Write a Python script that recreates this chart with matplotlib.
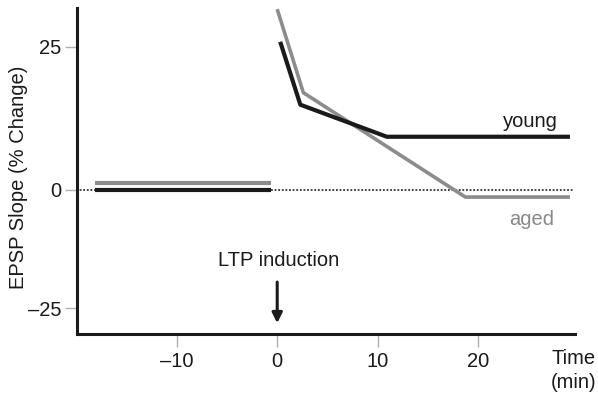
import matplotlib
matplotlib.use("Agg")
import matplotlib.pyplot as plt
import numpy as np

plt.rcParams["font.family"] = ["Liberation Sans", "DejaVu Sans"]

# baseline (pre-induction)
base_x = [-18.1, -0.6]
young_base = [0.0, 0.0]
aged_base = [1.2, 1.2]

# post-induction
young_x = [0.3, 2.3, 10.9, 29.1]
young_y = [25.9, 14.9, 9.3, 9.3]
aged_x = [0.0, 2.6, 18.7, 29.1]
aged_y = [31.6, 17.0, -1.5, -1.5]

x_ticks = [-10, 0, 10, 20]
y_ticks = [-25, 0, 25]

NEG = 118 / 143  # negative half of the y axis is drawn compressed


def fwd(y):
    y = np.asarray(y, dtype=float)
    return np.where(y >= 0, y, y * NEG)


def inv(y):
    y = np.asarray(y, dtype=float)
    return np.where(y >= 0, y, y / NEG)


BLACK = "#1a1a1a"
GRAY = "#8c8c8c"

fig = plt.figure(figsize=(5.98, 3.96), dpi=100)
ax = fig.add_axes([77 / 598, 1 - 334 / 396, (575 - 77) / 598, (334 - 8) / 396])
ax.set_yscale("function", functions=(fwd, inv))

ax.plot([-20, 29.4], [0, 0], color="#333333", lw=1.3, ls=(0, (1, 1)), zorder=1)

ax.plot(base_x, aged_base, color=GRAY, lw=3, solid_capstyle="butt", zorder=2)
ax.plot(base_x, young_base, color=BLACK, lw=3, solid_capstyle="butt", zorder=3)
ax.plot(aged_x, aged_y, color=GRAY, lw=2.6, solid_capstyle="butt", zorder=2)
ax.plot(young_x, young_y, color=BLACK, lw=3, solid_capstyle="butt", zorder=3)

ax.set_xlim(-19.9, 29.6)
ax.set_ylim(-30.5, 31.8)

for s in ["top", "right"]:
    ax.spines[s].set_visible(False)
for s in ["left", "bottom"]:
    ax.spines[s].set_linewidth(2.2)
    ax.spines[s].set_color(BLACK)

ax.set_xticks(x_ticks)
ax.set_xticklabels(["\u201310", "0", "10", "20"])
ax.set_yticks(y_ticks)
ax.set_yticklabels(["\u201325", "0", "25"])
ax.minorticks_off()
ax.tick_params(axis="both", length=9, width=1, color="#b0b0b0", labelsize=14.5, labelcolor=BLACK)
ax.tick_params(axis="x", pad=4)
ax.tick_params(axis="y", pad=2)

ax.text(25.2, 11.9, "young", fontsize=14.5, color=BLACK, ha="center", va="center")
ax.text(25.3, -6.2, "aged", fontsize=14.5, color="#888888", ha="center", va="center")

ax.annotate("", xy=(0, -28.2), xytext=(0, -19.5),
            arrowprops=dict(arrowstyle="-|>,head_length=0.6,head_width=0.3",
                            color=BLACK, lw=2.2, shrinkA=0, shrinkB=0))
ax.text(0.1, -14.9, "LTP induction", fontsize=14.5, color=BLACK, ha="center", va="center")

fig.text(596 / 598, 1 - 358 / 396, "Time", fontsize=14.5, color=BLACK, ha="right", va="center")
fig.text(596 / 598, 1 - 383 / 396, "(min)", fontsize=14.5, color=BLACK, ha="right", va="center")
fig.text(19 / 598, 1 - 177 / 396, "EPSP Slope (% Change)", fontsize=14.5, color=BLACK,
         rotation=90, ha="center", va="center")

fig.savefig("out.png", dpi=100)
